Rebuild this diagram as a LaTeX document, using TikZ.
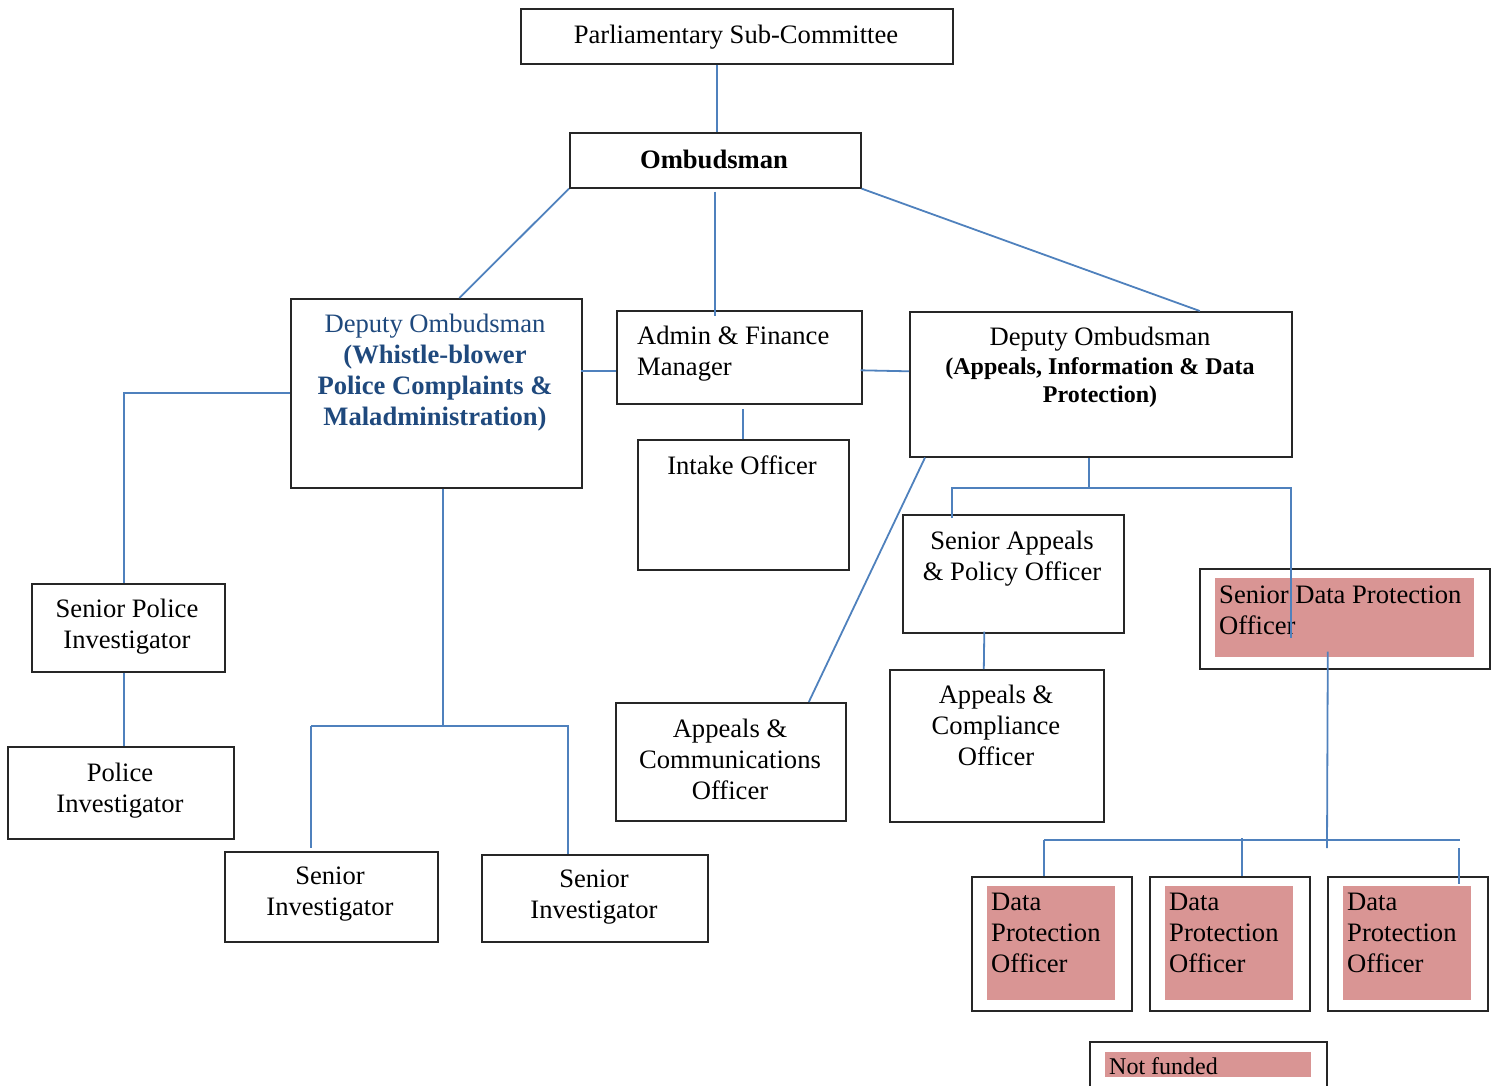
\documentclass[tikz,border=0pt]{standalone}
\usepackage{fontspec}
\setmainfont{Liberation Serif}
\definecolor{linkblue}{HTML}{4F81BD}
\definecolor{headblue}{HTML}{1F497D}
\definecolor{unfunded}{HTML}{D99594}

\begin{document}
\begin{tikzpicture}
	[x=1pt,y=-1pt,font=\fontsize{26.6}{31}\selectfont,
		box/.style={draw=black!85,line width=1.6pt,rectangle,anchor=north west,inner sep=0pt},
		pinkbox/.style={fill=unfunded,rectangle,anchor=north west,inner sep=0pt},
		txt/.style={inner sep=0pt,align=center,anchor=north},
		ltxt/.style={inner sep=0pt,align=left,anchor=north west},
		link/.style={draw=linkblue,line width=1.8pt}]

	\useasboundingbox (0,0) rectangle (1494,1085);

	% boxes
	\node[box,minimum width=432pt,minimum height=55pt]  (parl)   at (520,8)   {};
	\node[box,minimum width=291pt,minimum height=55pt]  (omb)    at (569,132) {};
	\node[box,minimum width=291pt,minimum height=189pt] (wb)     at (290,298) {};
	\node[box,minimum width=245pt,minimum height=93pt]  (admin)  at (616,310) {};
	\node[box,minimum width=211pt,minimum height=130pt] (intake) at (637,439) {};
	\node[box,minimum width=382pt,minimum height=145pt] (dpa)    at (909,311) {};
	\node[box,minimum width=221pt,minimum height=118pt] (sapo)   at (902,514) {};
	\node[box,minimum width=290pt,minimum height=100pt] (sdpo)   at (1199,568) {};
	\node[pinkbox,minimum width=259pt,minimum height=79pt] (sdpo-fill) at (1215,578) {};
	\node[box,minimum width=214pt,minimum height=152pt] (acomp)  at (889,669) {};
	\node[box,minimum width=230pt,minimum height=118pt] (acomm)  at (615,702) {};
	\node[box,minimum width=193pt,minimum height=88pt]  (spi)    at (31,583)  {};
	\node[box,minimum width=226pt,minimum height=92pt]  (pi)     at (7,746)   {};
	\node[box,minimum width=213pt,minimum height=90pt]  (si1)    at (224,851) {};
	\node[box,minimum width=226pt,minimum height=87pt]  (si2)    at (481,854) {};
	\node[box,minimum width=237pt,minimum height=52pt]  (key)    at (1089,1041) {};
	\node[pinkbox,minimum width=206pt,minimum height=25pt] (key-fill) at (1105,1052) {};

	\foreach \i/\x in {1/971,2/1149,3/1327} {
		\node[box,minimum width=160pt,minimum height=134pt] (dpo\i) at (\x,876) {};
		\node[pinkbox,minimum width=128pt,minimum height=114pt] (dpo\i-fill) at (\x+16,886) {};
		\node[ltxt] (dpo\i-text) at (\x+20,893) {Data\\Protection\\Officer};
	}

	% texts
	\node[txt] (parl-text) at (736,25) {Parliamentary Sub-Committee};
	\node[txt] (omb-text) at (714,150) {\textbf{Ombudsman}};
	\node[txt,text=headblue] (wb-text) at (435,314)
		{Deputy Ombudsman\\\textbf{(Whistle-blower}\\\textbf{Police Complaints \&}\\\textbf{Maladministration)}};
	\node[ltxt] (admin-text) at (637,326) {Admin \& Finance\\Manager};
	\node[txt] (intake-text) at (742,456) {Intake Officer};
	\node[txt,font=\fontsize{24}{28.5}\selectfont] (dpa-text) at (1100,327)
		{{\fontsize{26.6}{28.5}\selectfont Deputy Ombudsman}\\\textbf{(Appeals, Information \& Data}\\\textbf{Protection)}};
	\node[txt] (sapo-text) at (1012,531) {Senior Appeals\\\& Policy Officer};
	\node[ltxt] (sdpo-text) at (1219,586) {Senior Data Protection\\Officer};
	\node[txt] (acomp-text) at (996,685) {Appeals \&\\Compliance\\Officer};
	\node[txt] (acomm-text) at (730,719) {Appeals \&\\Communications\\Officer};
	\node[txt] (spi-text) at (127,599) {Senior Police\\Investigator};
	\node[txt] (pi-text) at (120,763) {Police\\Investigator};
	\node[txt] (si1-text) at (330,867) {Senior\\Investigator};
	\node[txt] (si2-text) at (594,870) {Senior\\Investigator};
	\node[ltxt,font=\fontsize{24}{28}\selectfont] (key-text) at (1109,1057) {Not funded};

	% helper points
	\coordinate (wb-bus) at (443,726);
	\coordinate (si1-top) at ([xshift=-20pt,yshift=3pt]si1.north);
	\coordinate (si2-top) at ([xshift=-27pt]si2.north);
	\coordinate (wb-bus-end) at (569,726);
	\coordinate (dpa-bus) at (1089,488);
	\coordinate (sapo-top) at ([xshift=-61pt,yshift=-4pt]sapo.north);
	\coordinate (sdpo-drop) at (1291,638);
	\coordinate (sdpo-out) at ([xshift=-17pt,yshift=18pt]sdpo.south);
	\coordinate (sdpo-bus) at (1327,840);
	\coordinate (sdpo-bus-end) at (1460,840);
	\coordinate (dpo1-top) at ([xshift=-8pt]dpo1.north);
	\coordinate (dpo2-top) at ([xshift=12pt]dpo2.north);
	\coordinate (dpo3-top) at ([xshift=51pt,yshift=-8pt]dpo3.north);

	% connectors
	\draw[link] ([xshift=2pt]parl.south -| omb.north) -- ([xshift=2pt]omb.north);
	\draw[link] (omb.south west) -- ([xshift=23pt]wb.north);
	\draw[link] ([yshift=-3pt]omb.south) -- ([yshift=-6pt]admin.north -| omb.south);
	\draw[link] (omb.south east) -- ([xshift=99pt]dpa.north);
	\draw[link] ([yshift=-14pt]admin.west) -- ++(-35,0);
	\draw[link] ([yshift=-13pt,xshift=-2pt]admin.east) -- ([yshift=13pt]dpa.west);
	\draw[link] (intake.north) -- ([yshift=-4pt]intake.north |- admin.south);
	\draw[link] (wb.west) -| ([xshift=-4pt]spi.north);
	\draw[link] ([xshift=-4pt]spi.south) -- ([xshift=-4pt]spi.south |- pi.north);

	\draw[link] (wb.south -| wb-bus) -- (wb-bus);
	\draw[link] (si1-top |- wb-bus) -- (wb-bus-end);
	\draw[link] (si1-top |- wb-bus) -- (si1-top);
	\draw[link] (si2-top |- wb-bus) -- (si2-top);

	\draw[link] ([xshift=16pt]dpa.south west) -- ([xshift=78pt]acomm.north);
	\draw[link] (dpa.south -| dpa-bus) -- (dpa-bus);
	\draw[link] (sapo-top) -- (sapo-top |- dpa-bus) -- (sdpo-drop |- dpa-bus) -- (sdpo-drop);
	\draw[link] ([xshift=-29pt,yshift=2pt]sapo.south) -- ([xshift=-13pt]acomp.north);

	\draw[link] (sdpo-out) -- ([yshift=-8pt]sdpo-bus);
	\draw[link] (dpo1-top |- sdpo-bus) -- (sdpo-bus-end);
	\draw[link] (dpo1-top |- sdpo-bus) -- (dpo1-top);
	\draw[link] ([yshift=2pt]dpo2-top |- sdpo-bus) -- (dpo2-top);
	\draw[link] ([yshift=-8pt]dpo3-top |- sdpo-bus) -- (dpo3-top);

\end{tikzpicture}
\end{document}
